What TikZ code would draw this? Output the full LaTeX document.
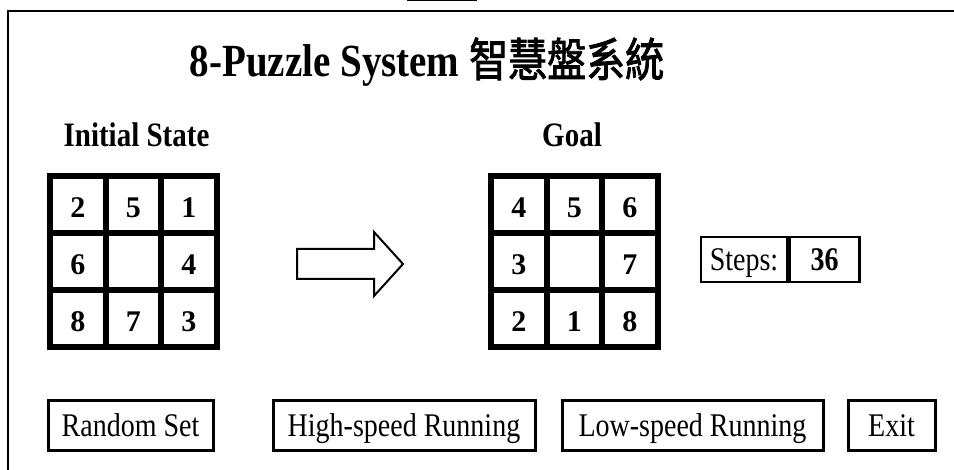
\documentclass[tikz,border=0pt]{standalone}
\usepackage{fontspec}
\usepackage{graphicx}
\setmainfont{Liberation Serif}
\newfontfamily\cjk[AutoFakeBold=2]{Noto Sans CJK TC}
\usepackage{tikz}
\usetikzlibrary{positioning}
\tikzstyle{screen} = [x = 1pt, y = -1pt]
\tikzstyle{frameLine} = [color=black, line width=2pt]
\tikzstyle{gridLine} = [color=black, line width=6pt, line cap=rect]
\tikzstyle{tileText} = [font=\fontsize{30}{32}\selectfont\bfseries, inner sep=0pt]
\tikzstyle{titleText} = [font=\fontsize{39}{42}\selectfont\bfseries]
\tikzstyle{labelText} = [font=\fontsize{29}{31}\selectfont\bfseries]
\tikzstyle{buttonStyle} = [draw, line width=3pt, font=\fontsize{28}{30}\selectfont, minimum height=50pt, inner sep=0pt, text height=22pt, text depth=0pt]
\tikzstyle{stepsStyle} = [draw, line width=2.5pt, minimum height=45pt, inner sep=0pt, font=\fontsize{28}{30}\selectfont, text height=22pt, text depth=0pt]
\tikzstyle{arrowStyle} = [color=black, fill=white, line width=2pt]
\newcommand{\tall}[1]{\scalebox{1}[1.18]{#1}}
\newcommand{\cellW}{55.5}
\newcommand{\cellH}{57}
\newcommand{\puzzleBoard}[4]{
  \foreach \tile [count=\k from 0] in {#4} {
    \pgfmathtruncatemacro{\row}{\k / 3}
    \pgfmathtruncatemacro{\column}{mod(\k, 3)}
    \node [tileText] (#1\k) at (#2 + \column * \cellW + \cellW / 2, #3 + \row * \cellH + \cellH / 2 + 3) {\tile};
  }
  \foreach \line in {0,...,3} {
    \draw [gridLine] (#2 + \line * \cellW, #3) -- + (0, 3 * \cellH);
    \draw [gridLine] (#2, #3 + \line * \cellH) -- + (3 * \cellW, 0);
  }
}

\begin{document}
\begin{tikzpicture}[screen]
  \useasboundingbox (0,0) rectangle (954,470);
  \draw [frameLine] (8,470) -- (8,11) -- (954,11);
  \draw [frameLine] (407,0.5) -- (477,0.5);

  \node [titleText] (title) at (427,62) {\tall{8-Puzzle System {\cjk\bfseries 智慧盤系統}}};
  \node [labelText] (initialLabel) at (136.5,135) {\tall{Initial State}};
  \node [labelText] (goalLabel) at (572,135) {\tall{Goal}};

  \puzzleBoard{initial}{50}{176}{2,5,1,6,{},4,8,7,3}
  \puzzleBoard{goal}{491}{176}{4,5,6,3,{},7,2,1,8}

  \draw [arrowStyle] (297,249) -- (374,249) -- (374,232) -- (403,264)
    -- (374,296) -- (374,279) -- (297,279) -- cycle;

  \node [stepsStyle, minimum width=86pt] (stepsLabel) at (744,259.5) {\tall{Steps:}};
  \node [stepsStyle, minimum width=70pt, font=\fontsize{28}{30}\selectfont\bfseries, right=0pt of stepsLabel] (stepsValue) {\tall{36}};

  \node [buttonStyle, minimum width=165pt] (randomButton) at (130.5,426) {\tall{Random Set}};
  \node [buttonStyle, minimum width=262pt] (highButton) at (404,426) {\tall{High-speed Running}};
  \node [buttonStyle, minimum width=261pt] (lowButton) at (692.5,426) {\tall{Low-speed Running}};
  \node [buttonStyle, minimum width=87pt] (exitButton) at (891.5,426) {\tall{Exit}};
\end{tikzpicture}
\end{document}
